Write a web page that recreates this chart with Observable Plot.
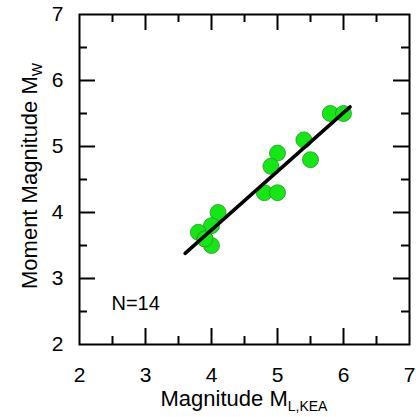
<!DOCTYPE html>
<html>
<head>
<meta charset="utf-8">
<script src="https://cdn.jsdelivr.net/npm/d3@7"></script>
<script src="https://cdn.jsdelivr.net/npm/@observablehq/plot@0.6"></script>
<style>
  html, body { margin: 0; padding: 0; background: #fff; }
  #chart svg { display: block; }
</style>
</head>
<body>
<div id="chart"></div>
<script>
// Data
const magnitudeML = [5.8, 6.0, 5.4, 5.5, 5.0, 4.9, 4.8, 5.0, 4.1, 4.0, 3.8, 3.9, 4.0, 3.9];
const momentMW   = [5.5, 5.5, 5.1, 4.8, 4.9, 4.7, 4.3, 4.3, 4.0, 3.8, 3.7, 3.6, 3.5, 3.6];
const fitX = [3.6, 6.1];
const fitY = [3.38, 5.6];
const xTicks = [2, 3, 4, 5, 6, 7];
const yTicks = [2, 3, 4, 5, 6, 7];
const xMajorInner = [3, 4, 5, 6];
const yMajorInner = [3, 4, 5, 6];
const xMinor = [2.5, 3.5, 4.5, 5.5, 6.5];
const yMinor = [2.5, 3.5, 4.5, 5.5, 6.5];
const annotation = "N=14";
const xLabelMain = "Magnitude M";
const xLabelSub = "L,KEA";
const yLabelMain = "Moment Magnitude M";
const yLabelSub = "W";

const W = 416, H = 417;
const mL = 79, mR = 7, mT = 14, mB = 73;
const plotW = W - mL - mR, plotH = H - mT - mB;
const major = 16, minor = 8;

const points = magnitudeML.map((x, i) => ({x, y: momentMW[i]}));
const fit = fitX.map((x, i) => ({x, y: fitY[i]}));

const chart = Plot.plot({
  width: W,
  height: H,
  marginLeft: mL, marginRight: mR, marginTop: mT, marginBottom: mB,
  style: {fontFamily: "'Liberation Sans', Arial, sans-serif", color: "#000", background: "#fff"},
  x: {domain: [2, 7], axis: null},
  y: {domain: [2, 7], axis: null},
  marks: [
    Plot.dot(points, {x: "x", y: "y", r: 8, fill: "#14e814", stroke: "#2f8f2f", strokeWidth: 0.8}),
    Plot.line(fit, {x: "x", y: "y", stroke: "#000", strokeWidth: 3.5}),
    // bottom & top ticks
    Plot.tickX(xMajorInner, {x: d => d, insetTop: plotH - major, strokeWidth: 2}),
    Plot.tickX(xMinor, {x: d => d, insetTop: plotH - minor, strokeWidth: 2}),
    Plot.tickX(xMajorInner, {x: d => d, insetBottom: plotH - major, strokeWidth: 2}),
    Plot.tickX(xMinor, {x: d => d, insetBottom: plotH - minor, strokeWidth: 2}),
    // left & right ticks
    Plot.tickY(yMajorInner, {y: d => d, insetRight: plotW - major, strokeWidth: 2}),
    Plot.tickY(yMinor, {y: d => d, insetRight: plotW - minor, strokeWidth: 2}),
    Plot.tickY(yMajorInner, {y: d => d, insetLeft: plotW - major, strokeWidth: 2}),
    Plot.tickY(yMinor, {y: d => d, insetLeft: plotW - minor, strokeWidth: 2}),
    Plot.axisX({ticks: xTicks, tickSize: 0, tickPadding: 23, fontSize: 21, label: null, tickFormat: d => d}),
    Plot.axisY({ticks: yTicks, tickSize: 0, tickPadding: 16, fontSize: 21, label: null, tickFormat: d => d}),
    Plot.frame({stroke: "#000", strokeWidth: 2}),
    Plot.text([annotation], {frameAnchor: "bottom-left", dx: 32, dy: -35, textAnchor: "start", lineAnchor: "bottom", fontSize: 20, text: d => d})
  ]
});

const svg = d3.select(chart);
// X axis label with subscript
const xl = svg.append("text")
  .attr("x", mL + plotW / 2)
  .attr("y", H - 11)
  .attr("text-anchor", "middle")
  .attr("font-size", 22)
  .attr("fill", "#000");
xl.append("tspan").text(xLabelMain);
xl.append("tspan").attr("font-size", 14).attr("dy", 5).text(xLabelSub);

// Y axis label with subscript
const yl = svg.append("text")
  .attr("transform", `translate(${37},${mT + plotH / 2 - 3}) rotate(-90)`)
  .attr("text-anchor", "middle")
  .attr("font-size", 22)
  .attr("fill", "#000");
yl.append("tspan").text(yLabelMain);
yl.append("tspan").attr("font-size", 14).attr("dy", 5).text(yLabelSub);

document.getElementById("chart").appendChild(chart);
</script>
</body>
</html>
